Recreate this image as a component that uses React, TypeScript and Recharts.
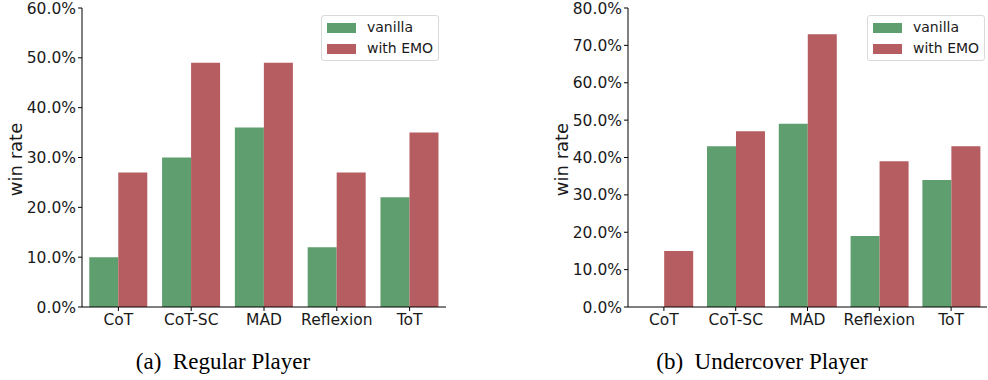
import React from 'react';
import { BarChart, Bar, XAxis, YAxis, Legend, Label } from 'recharts';

const categories = ['CoT', 'CoT-SC', 'MAD', 'Reflexion', 'ToT'];
const regularVanilla = [10, 30, 36, 12, 22];
const regularEmo = [27, 49, 49, 27, 35];
const undercoverVanilla = [0, 43, 49, 19, 34];
const undercoverEmo = [15, 47, 73, 39, 43];
const regularTicks = [0, 10, 20, 30, 40, 50, 60];
const undercoverTicks = [0, 10, 20, 30, 40, 50, 60, 70, 80];

const GREEN = '#5f9e6e';
const RED = '#b55d60';
const FONT = '"DejaVu Sans", sans-serif';

const buildRows = (v: number[], e: number[]) =>
  categories.map((c, i) => ({ name: c, vanilla: v[i], emo: e[i] }));

const LegendBox = () => (
  <div
    style={{
      width: 118,
      height: 46,
      border: '1px solid #d9d9d9',
      borderRadius: 3,
      background: '#fff',
      boxSizing: 'border-box',
      fontFamily: FONT,
      fontSize: 14,
      color: '#1a1a1a',
      position: 'relative',
    }}
  >
    {[
      { label: 'vanilla', color: GREEN, top: 6 },
      { label: 'with EMO', color: RED, top: 27 },
    ].map((r) => (
      <div key={r.label} style={{ position: 'absolute', left: 5, top: r.top, height: 11, display: 'flex', alignItems: 'center' }}>
        <div style={{ width: 29, height: 10, background: r.color }} />
        <span style={{ marginLeft: 11, lineHeight: '11px', whiteSpace: 'nowrap' }}>{r.label}</span>
      </div>
    ))}
  </div>
);

const YLabel = (props: any) => {
  const vb = props.viewBox || {};
  const x = vb.x + props.dx;
  const y = vb.y + vb.height / 2 + 2;
  return (
    <text
      x={x}
      y={y}
      transform={`rotate(-90, ${x}, ${y})`}
      textAnchor="middle"
      dominantBaseline="central"
      fontFamily={FONT}
      fontSize={18}
      fill="#1a1a1a"
    >
      win rate
    </text>
  );
};

type PanelProps = {
  data: { name: string; vanilla: number; emo: number }[];
  ticks: number[];
  max: number;
  width: number;
  yAxisWidth: number;
  right: number;
  legendLeft: number;
  labelDx: number;
};

const Panel = ({ data, ticks, max, width, yAxisWidth, right, legendLeft, labelDx }: PanelProps) => (
  <BarChart
    width={width}
    height={340}
    data={data}
    margin={{ top: 8, right, left: 0, bottom: 3 }}
    barCategoryGap="10%"
    barGap={0}
  >
    <XAxis
      dataKey="name"
      height={30}
      tick={{ fontFamily: FONT, fontSize: 15.5, fill: '#1a1a1a' }}
      tickSize={4}
      tickMargin={3}
      axisLine={{ stroke: '#000', strokeWidth: 1 }}
      tickLine={{ stroke: '#000' }}
      interval={0}
    />
    <YAxis
      domain={[0, max]}
      ticks={ticks}
      width={yAxisWidth}
      tickFormatter={(v: number) => `${v.toFixed(1)}%`}
      tick={{ fontFamily: FONT, fontSize: 15.5, fill: '#1a1a1a' }}
      tickSize={4}
      tickMargin={2}
      axisLine={{ stroke: '#000', strokeWidth: 1 }}
      tickLine={{ stroke: '#000' }}
      interval={0}
    >
      <Label content={<YLabel dx={labelDx} />} />
    </YAxis>
    <Legend
      layout="vertical"
      align="center"
      verticalAlign="middle"
      wrapperStyle={{ position: 'absolute', left: legendLeft, top: 15, width: 118, height: 46 }}
      content={() => <LegendBox />}
    />
    <Bar dataKey="vanilla" name="vanilla" fill={GREEN} isAnimationActive={false} />
    <Bar dataKey="emo" name="with EMO" fill={RED} isAnimationActive={false} />
  </BarChart>
);

const captionStyle: React.CSSProperties = {
  position: 'absolute',
  top: 350,
  fontFamily: '"Liberation Serif", "Times New Roman", serif',
  fontSize: 23,
  lineHeight: '23px',
  color: '#000',
  whiteSpace: 'pre',
  transform: 'translateX(-50%)',
};

export default function App() {
  return (
    <div style={{ position: 'absolute', left: 0, top: 0, width: 988, height: 380, background: '#fff', overflow: 'hidden' }}>
      <div style={{ position: 'absolute', left: 0, top: 0 }}>
        <Panel
          data={buildRows(regularVanilla, regularEmo)}
          ticks={regularTicks}
          max={60}
          width={470}
          yAxisWidth={82}
          right={24}
          legendLeft={321}
          labelDx={15}
        />
      </div>
      <div style={{ position: 'absolute', left: 520, top: 0 }}>
        <Panel
          data={buildRows(undercoverVanilla, undercoverEmo)}
          ticks={undercoverTicks}
          max={80}
          width={468}
          yAxisWidth={108}
          right={1}
          legendLeft={347}
          labelDx={41}
        />
      </div>
      <div style={{ ...captionStyle, left: 223 }}>{'(a)  Regular Player'}</div>
      <div style={{ ...captionStyle, left: 762 }}>{'(b)  Undercover Player'}</div>
    </div>
  );
}
